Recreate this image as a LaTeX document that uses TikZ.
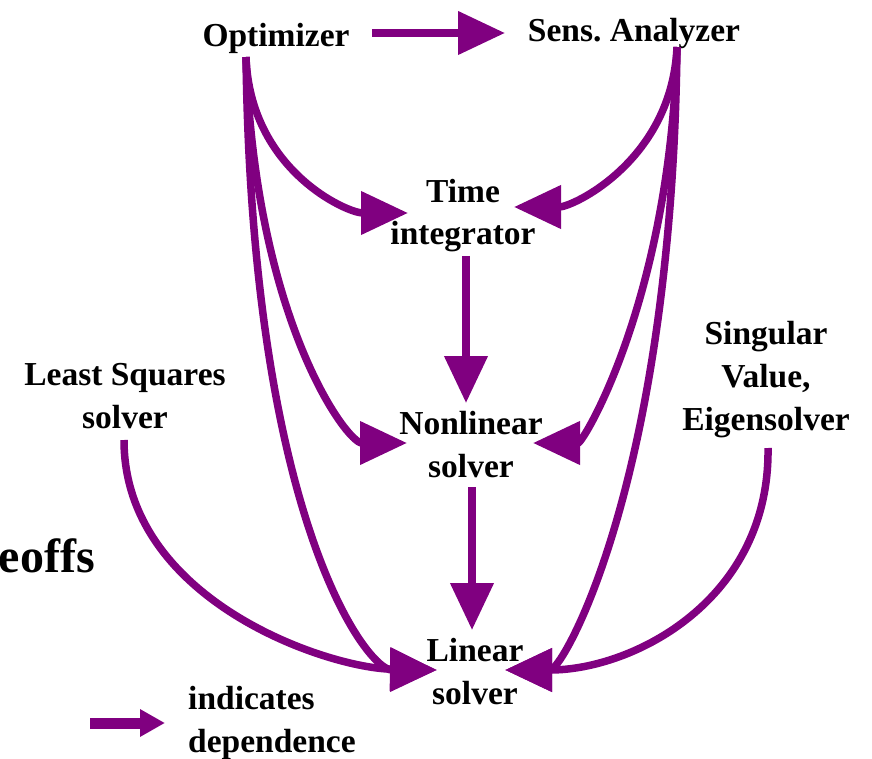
\documentclass[tikz,border=0pt]{standalone}
\usepackage{fontspec}
\setmainfont{Liberation Serif}
\usetikzlibrary{arrows.meta}
\definecolor{dep}{RGB}{128,0,128}
\frenchspacing
\begin{document}
\begin{tikzpicture}[x=1pt,y=-1pt,
  lbl/.style={font=\fontsize{33.5}{43}\selectfont\bfseries, align=center,
              inner sep=0pt, anchor=base},
  dep/.style={draw=dep, line width=7.5pt, -{Triangle[length=47pt,width=42pt]}},
  legarrow/.style={draw=dep, line width=11pt, -{Triangle[length=25pt,width=26pt]}},
]
\useasboundingbox (0,0) rectangle (872,759);

% components (base = baseline of the last line)
\node[lbl] (opt)  at (276,47)  {Optimizer};
\node[lbl] (sens) at (634,42)  {Sens. Analyzer};
\node[lbl] (time) at (463,245) {Time\\integrator};
\node[lbl] (nl)   at (471,477) {Nonlinear\\solver};
\node[lbl] (lin)  at (475,704) {Linear\\solver};
\node[lbl] (ls)   at (125,428) {Least Squares\\solver};
\node[lbl] (svd)  at (766,430) {Singular\\Value,\\Eigensolver};
\node[font=\fontsize{48}{56}\selectfont\bfseries, inner sep=0pt, anchor=base east]
  (trade) at (95,572) {eoffs};
\node[lbl, align=left, anchor=base west] (legend) at (188,752) {indicates\\dependence};

% connector ports
\coordinate (optR)  at (372,33);
\coordinate (sensL) at (505,33);
\coordinate (optB)  at (246,57);
\coordinate (sensB) at (677,47);
\coordinate (lsB)   at (124,440);
\coordinate (svdB)  at (768,448);
\coordinate (timeL) at (408,213);
\coordinate (timeR) at (514,207);
\coordinate (timeB) at (466,256);
\coordinate (nlT)   at (466,403);
\coordinate (nlL)   at (407,443);
\coordinate (nlR)   at (533,443);
\coordinate (nlB)   at (472,487);
\coordinate (linT)  at (472,630);
\coordinate (linL)  at (437,670);
\coordinate (linR)  at (505,670);
\coordinate (legA)  at (90,723);
\coordinate (legB)  at (165,723);

% dependences
\draw[dep] (optR) -- (sensL);
\draw[dep] (timeB) -- (nlT);
\draw[dep] (nlB) -- (linT);
\draw[dep] (optB) .. controls (250,170) and (347,213) .. (timeL);
\draw[dep] (optB) .. controls (255,320) and (347,443) .. (nlL);
\draw[dep] (optB) .. controls (252,520) and (367,670) .. (linL);
\draw[dep] (lsB)  .. controls (124,600) and (327,668) .. (linL);
\draw[dep] (sensB) .. controls (672,160) and (573,207) .. (timeR);
\draw[dep] (sensB) .. controls (670,300) and (583,443) .. (nlR);
\draw[dep] (sensB) .. controls (672,480) and (563,670) .. (linR);
\draw[dep] (svdB) .. controls (770,600) and (633,670) .. (linR);

% legend
\draw[legarrow] (legA) -- (legB);
\end{tikzpicture}
\end{document}
